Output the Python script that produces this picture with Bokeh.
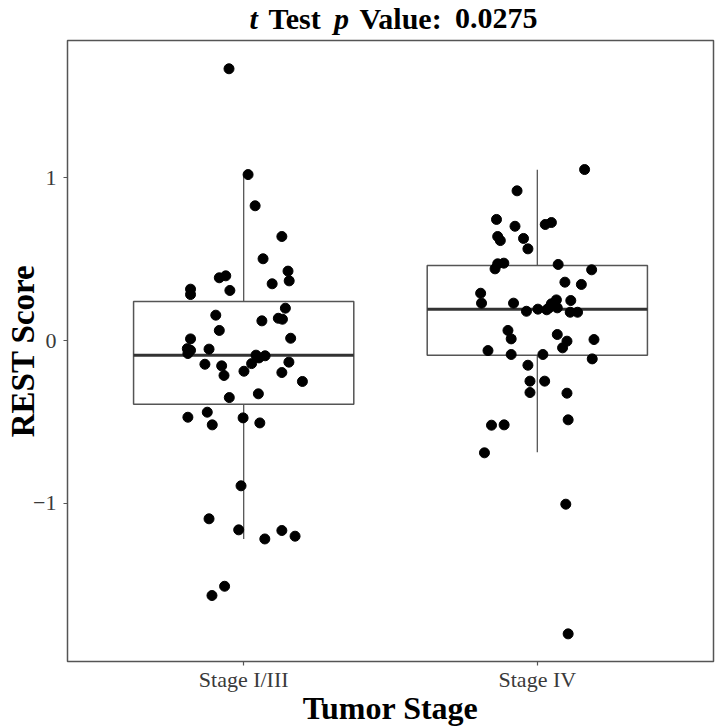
from bokeh.plotting import figure
from bokeh.layouts import column
from bokeh.models import Range1d, FixedTicker, ColumnDataSource
from bokeh.core.properties import value
from bokeh.embed import file_html
from bokeh.resources import INLINE

# ---------------- data ----------------
categories = ["Stage I/III", "Stage IV"]

stage1_scores = [1.672, 1.021, 0.829, 0.640, 0.503, 0.427, 0.367, 0.349, 0.398, 0.386,
                 0.308, 0.316, 0.283, 0.199, 0.156, 0.121, 0.137, 0.131, 0.062, 0.010,
                 0.014, -0.050, -0.060, -0.080, -0.053, -0.090, -0.107, -0.094, -0.146, -0.156,
                 -0.142, -0.133, -0.215, -0.189, -0.197, -0.252, -0.351, -0.328, -0.441, -0.472,
                 -0.519, -0.476, -0.507, -0.894, -1.097, -1.165, -1.221, -1.169, -1.204, -1.512,
                 -1.569]
stage1_jitter = [-0.050, 0.015, 0.039, 0.130, 0.066, 0.151, 0.155, 0.097, -0.061, -0.083,
                 -0.047, -0.181, -0.181, 0.142, -0.095, 0.062, 0.118, 0.132, -0.083, -0.181,
                 0.160, -0.192, -0.181, -0.190, -0.118, 0.042, 0.052, 0.073, -0.132, -0.075,
                 0.027, 0.154, -0.067, 0.001, 0.130, 0.200, -0.049, 0.050, -0.124, -0.190,
                 -0.107, -0.002, 0.055, -0.009, -0.118, -0.017, 0.072, 0.130, 0.175, -0.065,
                 -0.108]

stage4_scores = [1.052, 0.921, 0.745, 0.703, 0.714, 0.726, 0.640, 0.615, 0.628, 0.564,
                 0.441, 0.472, 0.476, 0.468, 0.435, 0.359, 0.345, 0.291, 0.230, 0.230,
                 0.250, 0.246, 0.226, 0.201, 0.201, 0.180, 0.193, 0.189, 0.174, 0.174,
                 0.062, 0.010, 0.037, -0.004, 0.006, -0.045, -0.062, -0.086, -0.086, -0.113,
                 -0.152, -0.250, -0.250, -0.320, -0.324, -0.521, -0.519, -0.488, -0.691, -1.007,
                 -1.805]
stage4_jitter = [0.161, -0.069, -0.139, -0.076, 0.027, 0.048, -0.135, -0.126, -0.047, -0.032,
                 -0.144, -0.135, -0.114, 0.071, 0.185, 0.094, 0.150, -0.193, -0.190, -0.081,
                 0.065, 0.114, 0.048, 0.068, 0.040, -0.037, 0.002, 0.032, 0.112, 0.137,
                 -0.100, -0.089, 0.068, 0.101, 0.193, 0.086, -0.168, -0.089, 0.019, 0.187,
                 -0.032, -0.025, 0.025, -0.025, 0.101, -0.156, -0.113, 0.105, -0.180, 0.097,
                 0.105]

box_q1 = [-0.392, -0.090]
box_median = [-0.090, 0.193]
box_q3 = [0.240, 0.4615]
whisker_low = [-1.221, -0.687]
whisker_high = [1.021, 1.050]

title_parts = ["t", "Test", "p", "Value:", "0.0275"]
title_styles = ["bold italic", "bold", "bold italic", "bold", "bold"]
x_title = "Tumor Stage"
y_title = "REST Score"
y_ticks = [-1, 0, 1]
y_tick_labels = ["\u22121", "0", "1"]

# ---------------- layout constants ----------------
SERIF = "Liberation Serif"
W = 715
TITLE_H = 39
MAIN_H = 728 - TITLE_H
ML, MR, MT, MB = 67, 2, 1, 67

# ---------------- title strip (mixed bold / bold-italic) ----------------
EM = {"t": 0.333, "T": 0.667, "e": 0.444, "s": 0.389, "V": 0.722, "a": 0.5, "l": 0.278,
      "u": 0.556, ":": 0.333, "0": 0.5, ".": 0.25, "2": 0.5, "7": 0.5, "5": 0.5, "p": 0.556}
EM_BI = {"t": 0.278, "p": 0.5}
TS = 30
GAP = 10.5

def text_width(txt, style):
    tab = EM_BI if "italic" in style else EM
    return sum(tab.get(ch, 0.5) for ch in txt) * TS

widths = [text_width(t, s) for t, s in zip(title_parts, title_styles)]
total = sum(widths) + GAP * (len(widths) - 1)
center = 393
xs, cur = [], center - total / 2
for w in widths:
    xs.append(cur)
    cur += w + GAP

tfig = figure(width=W, height=TITLE_H, x_range=Range1d(ML, W - MR), y_range=Range1d(0, TITLE_H),
              output_backend="svg", toolbar_location=None,
              x_axis_location=None, y_axis_location=None,
              min_border=0, min_border_left=ML, min_border_right=MR,
              min_border_top=0, min_border_bottom=0)
tfig.xgrid.visible = False
tfig.ygrid.visible = False
tfig.outline_line_color = None
tsrc = ColumnDataSource(dict(x=xs, y=[TITLE_H - 18] * len(xs), text=title_parts, style=title_styles))
tfig.text(x="x", y="y", text="text", source=tsrc, text_font=value(SERIF),
          text_font_style="style", text_font_size=value(f"{TS}px"),
          text_color="black", text_align="left", text_baseline="alphabetic")

# ---------------- main plot ----------------
positions = [i + 1 for i in range(len(categories))]
box_width = 0.75

p = figure(width=W, height=MAIN_H, x_range=Range1d(0.4, 2.6), y_range=Range1d(-1.975, 1.846),
           output_backend="svg", toolbar_location=None,
           min_border_left=ML, min_border_right=MR, min_border_top=MT, min_border_bottom=MB)
p.xgrid.visible = False
p.ygrid.visible = False
p.background_fill_color = "white"
p.border_fill_color = "white"
p.outline_line_color = "#555555"
p.outline_line_width = 1.5

p.xaxis.ticker = FixedTicker(ticks=positions)
p.xaxis.major_label_overrides = {pos: c for pos, c in zip(positions, categories)}
p.yaxis.ticker = FixedTicker(ticks=y_ticks)
p.yaxis.major_label_overrides = {t: l for t, l in zip(y_ticks, y_tick_labels)}
for ax in (p.xaxis, p.yaxis):
    ax.axis_line_color = None
    ax.minor_tick_line_color = None
    ax.major_tick_in = 0
    ax.major_tick_out = 4
    ax.major_tick_line_color = "#555555"
    ax.major_tick_line_width = 1.2
    ax.major_label_text_font = SERIF
    ax.major_label_text_font_size = "22px"
    ax.major_label_text_color = "#3a3a3a"
    ax.axis_label_text_font = SERIF
    ax.axis_label_text_font_style = "bold"
    ax.axis_label_text_color = "black"
p.xaxis.axis_label = x_title
p.yaxis.axis_label = y_title
p.xaxis.axis_label_text_font_size = "32px"
p.yaxis.axis_label_text_font_size = "33px"
p.xaxis.major_label_standoff = 1
p.xaxis.axis_label_standoff = -5
p.yaxis.major_label_standoff = 7
p.yaxis.axis_label_standoff = -11

# boxplot
box_src = ColumnDataSource(dict(
    x=positions,
    left=[x - box_width / 2 for x in positions],
    right=[x + box_width / 2 for x in positions],
    q1=box_q1, q3=box_q3, med=box_median, lo=whisker_low, hi=whisker_high))
p.segment(x0="x", x1="x", y0="q3", y1="hi", source=box_src, line_color="#555555", line_width=1.3)
p.segment(x0="x", x1="x", y0="lo", y1="q1", source=box_src, line_color="#555555", line_width=1.3)
p.quad(left="left", right="right", bottom="q1", top="q3", source=box_src,
       fill_color="white", line_color="#555555", line_width=1.5)
p.segment(x0="left", x1="right", y0="med", y1="med", source=box_src,
          line_color="#333333", line_width=3)

# jittered points
px = [positions[0] + j for j in stage1_jitter] + [positions[1] + j for j in stage4_jitter]
py = stage1_scores + stage4_scores
p.scatter(px, py, size=10, fill_color="black", line_color="black")

layout = column(tfig, p, spacing=0)
open("out.html", "w").write(file_html(layout, INLINE))
